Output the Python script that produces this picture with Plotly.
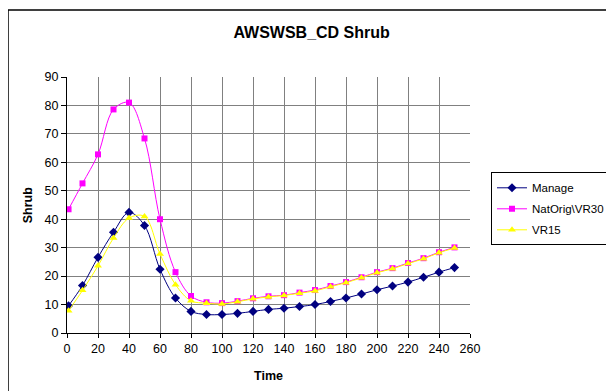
import plotly.graph_objects as go

time = [1, 10, 20, 30, 40, 50, 60, 70, 80, 90, 100, 110, 120, 130, 140, 150, 160,
        170, 180, 190, 200, 210, 220, 230, 240, 250]
manage = [9.6, 16.7, 26.6, 35.4, 42.4, 37.8, 22.4, 12.3, 7.6, 6.5, 6.5, 6.9, 7.6, 8.3,
          8.7, 9.3, 10.0, 11.1, 12.3, 13.7, 15.2, 16.5, 17.9, 19.6, 21.4, 23.0]
natorig = [43.5, 52.6, 62.8, 78.6, 81.0, 68.4, 40.0, 21.4, 13.0, 10.8, 10.5, 11.2, 12.2,
           12.9, 13.3, 14.2, 15.1, 16.5, 17.9, 19.6, 21.4, 22.8, 24.6, 26.3, 28.4, 30.1]
vr15 = [7.8, 15.0, 23.6, 33.4, 40.4, 41.0, 27.8, 17.0, 11.3, 10.5, 10.2, 11.0, 12.0,
        12.7, 13.2, 14.0, 14.8, 16.3, 17.7, 19.4, 21.2, 22.6, 24.4, 26.1, 28.2, 29.9]

font_family = "Liberation Sans, Arial, sans-serif"

W, H = 606, 383
L, R, T, B = 59, 144, 69, 58
PW, PH = W - L - R, H - T - B

fig = go.Figure()
fig.add_trace(go.Scatter(x=time, y=manage, name="Manage", mode="lines+markers",
                         legendgroup="a",
                         line=dict(color="#000080", width=1, shape="spline"),
                         marker=dict(symbol="diamond", size=7, color="#000080")))
fig.add_trace(go.Scatter(x=time, y=natorig, name="NatOrig\\VR30", mode="lines+markers",
                         legendgroup="b",
                         line=dict(color="#FF00FF", width=1, shape="spline"),
                         marker=dict(symbol="square", size=6, color="#FF00FF")))
fig.add_trace(go.Scatter(x=time, y=vr15, name="VR15", mode="lines+markers",
                         legendgroup="c",
                         line=dict(color="#FFFF00", width=1, shape="spline"),
                         marker=dict(symbol="triangle-up", size=7, color="#FFFF00")))

fig.update_layout(
    width=W, height=H,
    margin=dict(l=L, r=R, t=T, b=B, autoexpand=False),
    paper_bgcolor="white", plot_bgcolor="white",
    font=dict(family=font_family, size=12.5, color="black"),
    title=dict(text="<b>AWSWSB_CD Shrub</b>", x=0.501, xanchor="center",
               y=1 - 24.7 / H, yanchor="middle", font=dict(size=16)),
    xaxis=dict(range=[0, 260], tickmode="linear", tick0=0, dtick=20,
               showgrid=True, gridcolor="#808080", gridwidth=1,
               showline=True, linecolor="black", linewidth=1,
               ticks="outside", ticklen=4, tickcolor="black",
               zeroline=False, fixedrange=True),
    yaxis=dict(range=[0, 90], tickmode="linear", tick0=0, dtick=10,
               showgrid=True, gridcolor="#808080", gridwidth=1,
               showline=True, linecolor="black", linewidth=1,
               ticks="outside", ticklen=5, tickcolor="black",
               zeroline=False, fixedrange=True),
    legend=dict(x=(483 - L) / PW, y=1 - (164.3 - T) / PH, xanchor="left", yanchor="top",
                bordercolor="black", borderwidth=1, bgcolor="white",
                font=dict(size=11.5), tracegroupgap=2, itemwidth=30),
    showlegend=True,
)

fig.add_annotation(text="<b>Time</b>", xref="paper", yref="paper",
                   x=0.5, y=-(367.5 - (H - B)) / PH, xanchor="center", yanchor="middle",
                   showarrow=False, font=dict(size=12.5))
fig.add_annotation(text="<b>Shrub</b>", xref="paper", yref="paper",
                   x=(20.3 - L) / PW, y=0.5, xanchor="center", yanchor="middle",
                   textangle=-90, showarrow=False, font=dict(size=12.5))

# outer chart frame
fig.add_shape(type="rect", xref="paper", yref="paper",
              x0=(0 - L) / PW, x1=(W + 10 - L) / PW,
              y0=-(H + 10 - (H - T - B) - T) / PH, y1=1 + (T - 2) / PH,
              line=dict(color="black", width=1.5), fillcolor="rgba(0,0,0,0)", layer="below")

fig.write_html("out.html")
